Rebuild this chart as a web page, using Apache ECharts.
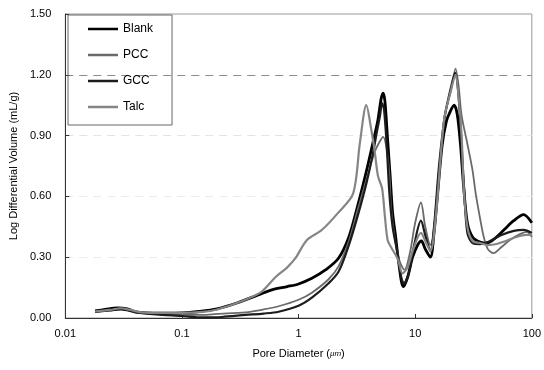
<!DOCTYPE html>
<html>
<head>
    <meta charset="utf-8">
    <script src="https://cdn.jsdelivr.net/npm/echarts@6/dist/echarts.min.js"></script>
</head>
<body style="margin:0">
    <div id="main" style="width:544px;height:370px;"></div>
    <script type="text/javascript">
        // pore diameter (um), log differential volume (mL/g)
        var seriesNames = ['Blank', 'PCC', 'GCC', 'Talc'];
        var yTicks = [0, 0.3, 0.6, 0.9, 1.2, 1.5];

        var blank = [[0.018,0.035],[0.022,0.042],[0.028,0.05],[0.034,0.045],[0.04,0.03],[0.05,0.025],[0.07,0.024],
            [0.1,0.025],[0.14,0.032],[0.2,0.045],[0.3,0.075],[0.47,0.118],[0.6,0.14],[0.8,0.155],[1.0,0.168],
            [1.3,0.196],[1.7,0.237],[2.2,0.295],[2.7,0.40],[3.2,0.55],[3.8,0.72],[4.4,0.88],[4.8,0.98],[5.1,1.08],
            [5.3,1.11],[5.5,1.07],[5.8,0.88],[6.1,0.70],[6.4,0.52],[6.8,0.40],[7.2,0.28],[7.9,0.155],[8.6,0.2],
            [9.5,0.3],[10.5,0.36],[11.3,0.38],[12.2,0.34],[13.5,0.30],[14.5,0.42],[15.5,0.6],[17,0.85],[18.5,0.97],
            [20,1.02],[21.6,1.05],[23,1.0],[24.5,0.85],[26,0.65],[28,0.47],[31,0.40],[36,0.375],[41.5,0.37],
            [50,0.40],[57.5,0.434],[70,0.48],[85,0.51],[100,0.47]];

        var pcc = [[0.018,0.03],[0.025,0.04],[0.03,0.045],[0.04,0.03],[0.06,0.02],[0.1,0.015],[0.15,0.015],
            [0.2,0.02],[0.35,0.028],[0.5,0.042],[0.675,0.058],[1.0,0.09],[1.3,0.125],[1.8,0.19],[2.2,0.255],
            [2.7,0.38],[3.2,0.53],[3.8,0.68],[4.5,0.82],[4.9,0.865],[5.3,0.894],[5.65,0.845],[6.0,0.71],[6.2,0.55],
            [6.65,0.40],[7.3,0.286],[8.1,0.237],[9,0.32],[10,0.47],[11.2,0.57],[12.2,0.45],[13.5,0.36],[14.5,0.42],
            [15.5,0.6],[17.7,0.98],[20.2,1.12],[22.2,1.23],[23.5,1.15],[25,1.0],[28,0.86],[31,0.73],[33,0.615],
            [36.3,0.48],[38.7,0.40],[42,0.34],[47,0.32],[55,0.35],[65,0.385],[80,0.415],[90.7,0.425],[100,0.40]];

        var gcc = [[0.018,0.03],[0.025,0.038],[0.03,0.042],[0.04,0.028],[0.06,0.018],[0.1,0.01],[0.15,0.003],
            [0.22,0.005],[0.35,0.015],[0.5,0.022],[0.675,0.031],[1.0,0.06],[1.3,0.1],[1.8,0.17],[2.2,0.228],
            [2.7,0.36],[3.2,0.5],[3.8,0.66],[4.3,0.8],[4.7,0.92],[5.0,1.0],[5.2,1.06],[5.4,1.03],[5.7,0.85],
            [6.0,0.62],[6.4,0.45],[7.0,0.33],[7.6,0.2],[8.0,0.17],[8.8,0.22],[9.8,0.36],[11.2,0.48],[12.3,0.40],
            [13.5,0.33],[14.5,0.45],[16,0.75],[18,1.0],[20.5,1.15],[22,1.21],[23.5,1.1],[25,0.85],[26.5,0.6],
            [28,0.42],[31,0.37],[36,0.365],[42,0.375],[55,0.41],[70,0.43],[85,0.435],[100,0.42]];

        var talc = [[0.018,0.032],[0.024,0.04],[0.03,0.048],[0.036,0.04],[0.045,0.028],[0.07,0.025],[0.1,0.025],
            [0.15,0.03],[0.2,0.042],[0.3,0.075],[0.47,0.125],[0.63,0.20],[0.8,0.25],[0.94,0.295],[1.18,0.385],
            [1.58,0.434],[2.19,0.52],[2.94,0.615],[3.35,0.86],[3.81,1.05],[4.2,0.93],[4.5,0.82],[4.8,0.70],
            [5.2,0.64],[5.5,0.50],[5.8,0.385],[6.2,0.35],[7.1,0.29],[7.8,0.22],[8.6,0.25],[9.5,0.33],[11.2,0.42],
            [12.2,0.38],[13.5,0.33],[15,0.5],[17.7,0.98],[20.2,1.12],[22.2,1.20],[23.5,1.1],[25,0.9],[26.2,0.62],
            [28,0.45],[31,0.38],[36,0.37],[42,0.36],[50,0.365],[60,0.38],[74,0.40],[90,0.41],[100,0.41]];

        var myChart = echarts.init(document.getElementById('main'));

        function line(name, data, color, width) {
            return {
                name: name,
                type: 'line',
                data: data,
                smooth: 0.3,
                symbol: 'none',
                lineStyle: { color: color, width: width },
                itemStyle: { color: color }
            };
        }

        var option = {
            animation: false,
            textStyle: { fontFamily: 'Liberation Sans, Arial, sans-serif' },
            grid: {
                left: 65, right: 9, top: 14, bottom: 52,
                show: true, borderColor: '#999', borderWidth: 1
            },
            legend: {
                data: seriesNames,
                orient: 'vertical',
                left: 68, top: 15,
                icon: 'path://M0,0h30v2.5H0z',
                itemWidth: 30, itemHeight: 14, itemGap: 14,
                padding: [8, 19, 12, 20],
                borderColor: '#666', borderWidth: 1,
                textStyle: { fontSize: 12, color: '#000' }
            },
            xAxis: {
                type: 'log',
                logBase: 10,
                min: 0.01,
                max: 100,
                name: '{a|Pore Diameter (}{b|μm}{a|)}',
                nameLocation: 'middle',
                nameGap: 30,
                nameTextStyle: {
                    rich: {
                        a: { fontSize: 11, color: '#000' },
                        b: { fontSize: 8, fontStyle: 'italic', color: '#000' }
                    }
                },
                axisLine: { lineStyle: { color: '#333' } },
                axisTick: { inside: true, length: 4, lineStyle: { color: '#333' } },
                minorTick: { show: false },
                splitLine: { show: false },
                axisLabel: {
                    color: '#000', fontSize: 11, margin: 10,
                    formatter: function (v) { return String(+v.toPrecision(3)); }
                }
            },
            yAxis: {
                type: 'value',
                min: 0,
                max: 1.5,
                interval: 0.3,
                name: 'Log Differential Volume (mL/g)',
                nameLocation: 'middle',
                nameGap: 44,
                nameTextStyle: { fontSize: 11, color: '#000' },
                axisLine: { show: true, lineStyle: { color: '#333' } },
                axisTick: { show: true, inside: true, length: 4, lineStyle: { color: '#333' } },
                splitLine: {
                    show: true,
                    lineStyle: {
                        type: [8, 6],
                        color: ['rgba(0,0,0,0)', '#ececec', '#ececec', '#e4e4e4', '#8c8c8c', 'rgba(0,0,0,0)']
                    }
                },
                axisLabel: {
                    color: '#000', fontSize: 11, margin: 14,
                    formatter: function (v) { return v.toFixed(2); }
                }
            },
            series: [
                line('Blank', blank, '#000', 2.8),
                line('PCC', pcc, '#6a6a6a', 1.8),
                line('GCC', gcc, '#1c1c1c', 2.2),
                line('Talc', talc, '#858585', 2.2)
            ]
        };
        myChart.setOption(option);
    </script>
</body>
</html>
